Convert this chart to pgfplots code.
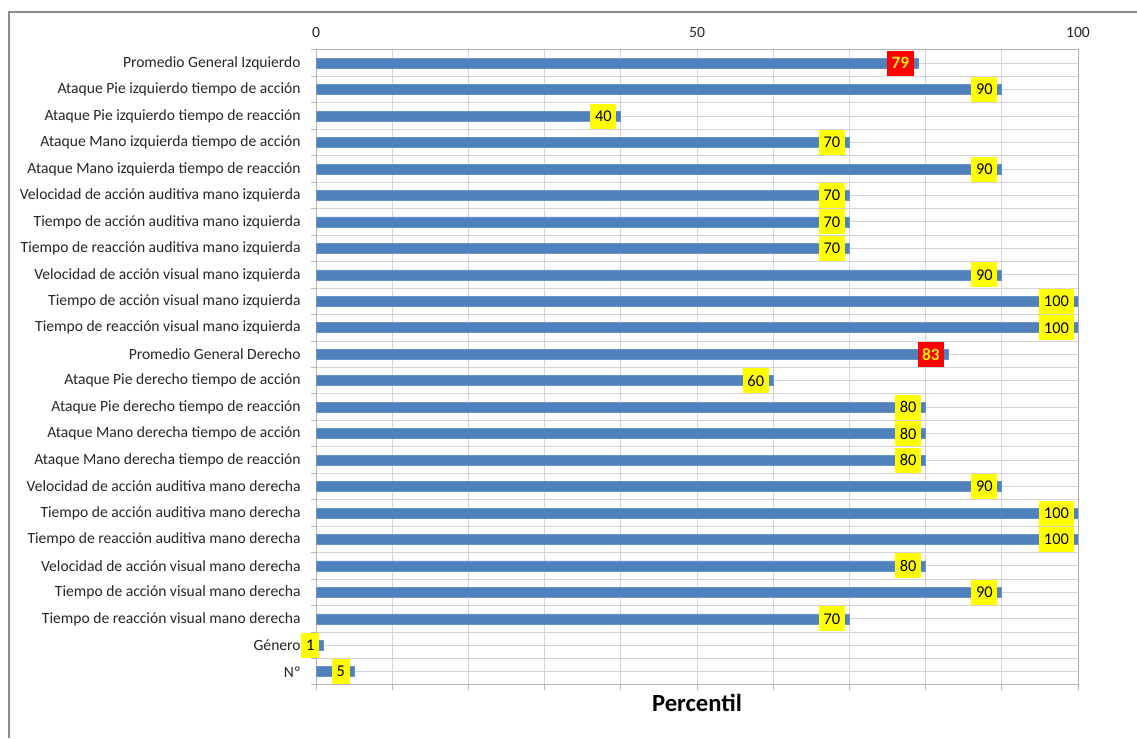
\documentclass[border=0pt]{standalone}
\usepackage{fontspec}
\setmainfont{Carlito}
\usepackage{pgfplots}
\pgfplotsset{compat=1.18}
\usepackage{pgfplotstable}
\definecolor{barblue}{HTML}{4F81BD}
\definecolor{gridgray}{HTML}{D4D4D4}
\definecolor{axisgray}{HTML}{B4B4B4}
\definecolor{framegray}{HTML}{8C8C8C}
\definecolor{lblyellow}{HTML}{FFFF00}
\definecolor{lblred}{HTML}{FF0000}

\pgfplotstableread{
y val
0 5
1 1
2 70
3 90
4 80
5 100
6 100
7 90
8 80
9 80
10 80
11 60
13 100
14 100
15 90
16 70
17 70
18 70
19 90
20 70
21 40
22 90
}\datamain
\pgfplotstableread{
y val
12 83
23 79
}\dataavg

\begin{document}
\begin{tikzpicture}[x=1pt,y=1pt]
\path[use as bounding box] (0,0) rectangle (852.75,553.5);
\draw[framegray, line width=1.1pt] (6.75,0) -- (6.75,544.5) -- (853,544.5);
\begin{axis}[
  at={(237pt,39.75pt)}, anchor=south west,
  scale only axis, width=571.5pt, height=476.25pt,
  xmin=0, xmax=100, ymin=-0.5, ymax=23.5,
  xbar, bar shift=0pt, bar width=7.5pt,
  axis line style={axisgray, line width=0.75pt},
  xtick={0,50,100},
  minor xtick={0,10,...,100},
  xticklabel pos=top, xtick pos=bottom,
  ytick={0,1,...,23},
  minor ytick={-0.5,0.5,...,23.5},
  ytick pos=left,
  yticklabels={N{º},Género,Tiempo de reacción visual mano derecha,Tiempo de acción visual mano derecha,Velocidad de acción visual mano derecha,Tiempo de reacción auditiva mano derecha,Tiempo de acción auditiva mano derecha,Velocidad de acción auditiva mano derecha,Ataque Mano derecha tiempo de reacción,Ataque Mano derecha tiempo de acción,Ataque Pie derecho tiempo de reacción,Ataque Pie derecho tiempo de acción,Promedio General Derecho,Tiempo de reacción visual mano izquierda,Tiempo de acción visual mano izquierda,Velocidad de acción visual mano izquierda,Tiempo de reacción auditiva mano izquierda,Tiempo de acción auditiva mano izquierda,Velocidad de acción auditiva mano izquierda,Ataque Mano izquierda tiempo de reacción,Ataque Mano izquierda tiempo de acción,Ataque Pie izquierdo tiempo de reacción,Ataque Pie izquierdo tiempo de acción,Promedio General Izquierdo},
  tick align=outside, major tick length=0pt, minor tick length=3.75pt,
  tick style={axisgray, line width=0.75pt},
  xminorgrids, ymajorgrids, yminorgrids,
  major grid style={gridgray, line width=0.75pt},
  minor grid style={gridgray, line width=0.75pt},
  every tick label/.append style={font=\fontsize{11.7}{14}\selectfont, text=black!85},
  yticklabel style={xshift=-8pt},
  /pgf/number format/assume math mode=true,
  xticklabel style={yshift=6pt},
  xlabel={Percentil},
  xlabel style={at={(axis description cs:0.5,0)}, anchor=center, yshift=-13.5pt, font=\bfseries\fontsize{18.5}{22}\selectfont},
]
\addplot[fill=barblue, draw=barblue!85!white, line width=0.5pt,
  point meta=explicit symbolic,
  nodes near coords,
  nodes near coords style={anchor=east, xshift=-3pt, fill=lblyellow, text=black, inner xsep=3.6pt, inner ysep=0pt, minimum height=18.75pt, font=\fontsize{12.3}{14}\selectfont}]
  table[x=val, y=y, meta=val] {\datamain};
\addplot[fill=barblue, draw=barblue!85!white, line width=0.5pt,
  point meta=explicit symbolic,
  nodes near coords,
  nodes near coords style={anchor=east, xshift=-3pt, fill=lblred, text=yellow, inner xsep=3.4pt, inner ysep=0pt, minimum height=18.75pt, font=\bfseries\fontsize{13}{15}\selectfont}]
  table[x=val, y=y, meta=val] {\dataavg};
\end{axis}
\end{tikzpicture}
\end{document}
